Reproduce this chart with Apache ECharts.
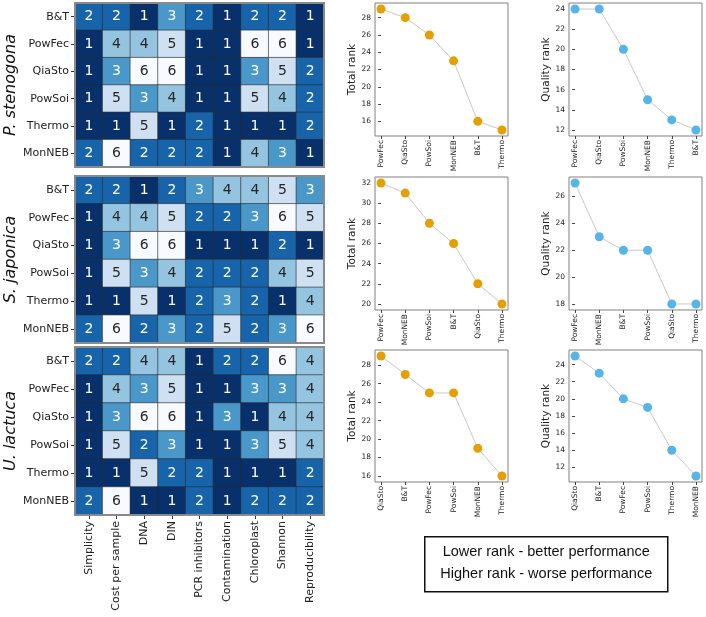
<!DOCTYPE html>
<html>
<head>
<meta charset="utf-8">
<script src="https://cdn.jsdelivr.net/npm/echarts@6/dist/echarts.min.js"></script>
<style>
  html, body { margin: 0; padding: 0; background: #fff; }
  #main { width: 706px; height: 617px; }
</style>
</head>
<body>
<div id="main"></div>
<script>
var criteria = ['Simplicity', 'Cost per sample', 'DNA', 'DIN', 'PCR inhibitors',
                'Contamination', 'Chloroplast', 'Shannon', 'Reproducibility'];
var methods  = ['B&T', 'PowFec', 'QiaSto', 'PowSoi', 'Thermo', 'MonNEB'];
var species  = ['P. stenogona', 'S. japonica', 'U. lactuca'];

// rank per method (rows) and criterion (columns)
var ranksStenogona = [
    [2, 2, 1, 3, 2, 1, 2, 2, 1],
    [1, 4, 4, 5, 1, 1, 6, 6, 1],
    [1, 3, 6, 6, 1, 1, 3, 5, 2],
    [1, 5, 3, 4, 1, 1, 5, 4, 2],
    [1, 1, 5, 1, 2, 1, 1, 1, 2],
    [2, 6, 2, 2, 2, 1, 4, 3, 1]
];
var ranksJaponica = [
    [2, 2, 1, 2, 3, 4, 4, 5, 3],
    [1, 4, 4, 5, 2, 2, 3, 6, 5],
    [1, 3, 6, 6, 1, 1, 1, 2, 1],
    [1, 5, 3, 4, 2, 2, 2, 4, 5],
    [1, 1, 5, 1, 2, 3, 2, 1, 4],
    [2, 6, 2, 3, 2, 5, 2, 3, 6]
];
var ranksLactuca = [
    [2, 2, 4, 4, 1, 2, 2, 6, 4],
    [1, 4, 3, 5, 1, 1, 3, 3, 4],
    [1, 3, 6, 6, 1, 3, 1, 4, 4],
    [1, 5, 2, 3, 1, 1, 3, 5, 4],
    [1, 1, 5, 2, 2, 1, 1, 1, 2],
    [2, 6, 1, 1, 2, 1, 2, 2, 2]
];

// total / quality rank, sorted per species
var totalNamesSte   = ['PowFec', 'QiaSto', 'PowSoi', 'MonNEB', 'B&T', 'Thermo'];
var totalValuesSte  = [29, 28, 26, 23, 16, 15];
var qualNamesSte    = ['PowFec', 'QiaSto', 'PowSoi', 'MonNEB', 'Thermo', 'B&T'];
var qualValuesSte   = [24, 24, 20, 15, 13, 12];

var totalNamesJap   = ['PowFec', 'MonNEB', 'PowSoi', 'B&T', 'QiaSto', 'Thermo'];
var totalValuesJap  = [32, 31, 28, 26, 22, 20];
var qualNamesJap    = ['PowFec', 'MonNEB', 'B&T', 'PowSoi', 'QiaSto', 'Thermo'];
var qualValuesJap   = [27, 23, 22, 22, 18, 18];

var totalNamesLac   = ['QiaSto', 'B&T', 'PowFec', 'PowSoi', 'MonNEB', 'Thermo'];
var totalValuesLac  = [29, 27, 25, 25, 19, 16];
var qualNamesLac    = ['QiaSto', 'B&T', 'PowFec', 'PowSoi', 'Thermo', 'MonNEB'];
var qualValuesLac   = [25, 23, 20, 19, 14, 11];

var blues = ['#08306b', '#1764ab', '#4a98c9', '#94c4df', '#cee0f2', '#f7fbff'];
var font  = 'DejaVu Sans';

var myChart = echarts.init(document.getElementById('main'), null, {renderer: 'canvas'});

var heatGrids = [
    {left: 75, top: 3,   width: 249, height: 164},
    {left: 75, top: 176, width: 249, height: 167},
    {left: 75, top: 347, width: 249, height: 168}
];
var lineRows = [
    {top: 3,   height: 133},
    {top: 177, height: 133},
    {top: 350, height: 132}
];
var lineCols = [375, 569];

var rankSets = [ranksStenogona, ranksJaponica, ranksLactuca];
var lineSets = [
    [[totalNamesSte, totalValuesSte], [qualNamesSte, qualValuesSte]],
    [[totalNamesJap, totalValuesJap], [qualNamesJap, qualValuesJap]],
    [[totalNamesLac, totalValuesLac], [qualNamesLac, qualValuesLac]]
];

function heatData(m) {
    var out = [];
    m.forEach(function (row, r) {
        row.forEach(function (v, c) {
            out.push({value: [c, r, v], label: {color: v >= 4 ? '#262626' : '#ffffff'}});
        });
    });
    return out;
}

var grid = [], xAxis = [], yAxis = [], series = [];

heatGrids.forEach(function (g, i) {
    grid.push({left: g.left, top: g.top, width: g.width, height: g.height,
               show: true, borderColor: '#8a8a8a', borderWidth: 2, z: 5, backgroundColor: 'transparent'});
    xAxis.push({
        type: 'category', gridIndex: i, data: criteria, position: 'bottom',
        axisLine: {show: false},
        axisTick: {show: i === 2, alignWithLabel: true, length: 4, lineStyle: {color: '#333'}},
        axisLabel: {show: i === 2, rotate: 90, fontSize: 11, color: '#222', fontFamily: font, margin: 6},
        splitLine: {show: false}
    });
    yAxis.push({
        type: 'category', gridIndex: i, data: methods, inverse: true,
        name: species[i], nameLocation: 'middle', nameGap: 52, nameRotate: 90,
        nameTextStyle: {fontSize: 16, fontStyle: 'italic', color: '#111', fontFamily: font},
        axisLine: {show: false},
        axisTick: {show: true, alignWithLabel: true, length: 4, lineStyle: {color: '#333'}},
        axisLabel: {fontSize: 11, color: '#222', fontFamily: font, margin: 6},
        splitLine: {show: false}
    });
    series.push({
        type: 'heatmap', xAxisIndex: i, yAxisIndex: i,
        data: heatData(rankSets[i]),
        itemStyle: {borderColor: '#2a2a2a', borderWidth: 0.6},
        label: {show: true, fontSize: 14, fontFamily: font,
                formatter: function (p) { return p.value[2]; }},
        emphasis: {disabled: true}
    });
});

var lineColors = ['#e69f00', '#56b4e9'];
var lineNames  = ['Total rank', 'Quality rank'];

lineRows.forEach(function (row, r) {
    lineCols.forEach(function (left, c) {
        var idx = grid.length;
        var names = lineSets[r][c][0];
        var vals  = lineSets[r][c][1];
        var lo = Math.min.apply(null, vals), hi = Math.max.apply(null, vals);
        var pad = 0.05 * (hi - lo);
        grid.push({left: left, top: row.top, width: 133, height: row.height,
                   show: true, borderColor: '#808080', borderWidth: 1});
        xAxis.push({
            type: 'value', gridIndex: idx, min: -0.25, max: 5.25, splitNumber: 5,
            axisLine: {show: false},
            axisTick: {show: true, length: 3, lineStyle: {color: '#444'}},
            axisLabel: {rotate: 90, fontSize: 7.5, color: '#222', fontFamily: font, margin: 4,
                        showMinLabel: false, showMaxLabel: false,
                        formatter: (function (n) {
                            return function (v) { return Number.isInteger(v) ? n[v] : ''; };
                        })(names)},
            splitLine: {show: false}
        });
        yAxis.push({
            type: 'value', gridIndex: idx, min: lo - pad, max: hi + pad,
            splitNumber: Math.round((hi - lo + 2 * pad) / 2),
            name: lineNames[c], nameLocation: 'middle', nameGap: 17, nameRotate: 90,
            nameTextStyle: {fontSize: 10.5, color: '#222', fontFamily: font},
            axisLine: {show: false},
            axisTick: {show: true, length: 3, lineStyle: {color: '#444'}},
            axisLabel: {fontSize: 7.5, color: '#222', fontFamily: font, margin: 4,
                        showMinLabel: false, showMaxLabel: false,
                        formatter: function (v) { return Number.isInteger(v) ? v : ''; }},
            splitLine: {show: false}
        });
        series.push({
            type: 'line', xAxisIndex: idx, yAxisIndex: idx,
            data: vals.map(function (v, k) { return [k, v]; }),
            symbol: 'circle', symbolSize: 9,
            lineStyle: {color: '#c8c8c8', width: 1},
            itemStyle: {color: lineColors[c]},
            emphasis: {disabled: true},
            animation: false
        });
    });
});

var option = {
    animation: false,
    backgroundColor: '#ffffff',
    grid: grid,
    xAxis: xAxis,
    yAxis: yAxis,
    visualMap: {
        type: 'piecewise', show: false, dimension: 2, seriesIndex: [0, 1, 2],
        pieces: blues.map(function (col, k) { return {value: k + 1, color: col}; })
    },
    series: series,
    graphic: [{
        type: 'group', left: 424, top: 536,
        children: [
            {type: 'rect', shape: {x: 0, y: 0, width: 243, height: 55},
             style: {fill: '#fff', stroke: '#111', lineWidth: 1.5}},
            {type: 'text', x: 121.5, y: 15,
             style: {text: 'Lower rank - better performance', fontSize: 14.5, fontFamily: 'Liberation Sans',
                     fill: '#111', align: 'center', verticalAlign: 'middle'}},
            {type: 'text', x: 121.5, y: 37,
             style: {text: 'Higher rank - worse performance', fontSize: 14.5, fontFamily: 'Liberation Sans',
                     fill: '#111', align: 'center', verticalAlign: 'middle'}}
        ]
    }]
};

myChart.setOption(option);
</script>
</body>
</html>
